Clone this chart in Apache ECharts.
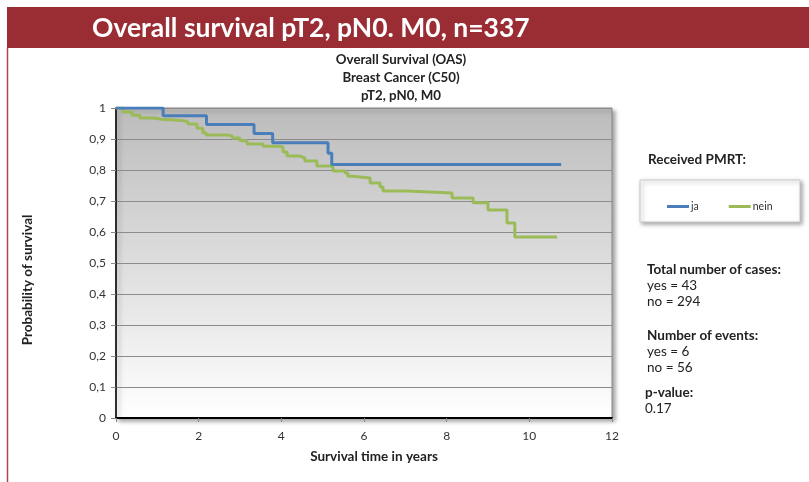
<!DOCTYPE html>
<html>
<head>
<meta charset="utf-8">
<script src="https://cdn.jsdelivr.net/npm/echarts@6/dist/echarts.min.js"></script>
<style>html,body{margin:0;padding:0;background:#fff}#c{width:809px;height:482px}</style>
</head>
<body>
<div id="c"></div>
<script>
// Kaplan-Meier step points: [years, survival probability]
const jaTimes   = [0, 1.14, 2.19, 3.34, 3.79, 5.13, 5.22, 10.77];
const jaValues  = [1, 0.975, 0.947, 0.918, 0.888, 0.854, 0.818, 0.818];
const neinTimes  = [0, 0.17, 0.39, 0.58, 0.90, 1.11, 1.60, 1.74, 1.96, 2.10, 2.18, 2.71, 2.81, 3.00, 3.17, 3.56, 3.92, 4.04, 4.14, 4.45, 4.57, 4.86, 5.18, 5.25, 5.54, 5.61, 5.73, 6.15, 6.39, 6.46, 7.04, 8.13, 8.64, 9.00, 9.46, 9.65, 10.67];
const neinValues = [1, 0.987, 0.977, 0.968, 0.964, 0.96, 0.955, 0.948, 0.935, 0.92, 0.913, 0.91, 0.903, 0.894, 0.884, 0.877, 0.874, 0.858, 0.845, 0.839, 0.829, 0.813, 0.81, 0.797, 0.79, 0.78, 0.774, 0.758, 0.745, 0.732, 0.726, 0.71, 0.694, 0.671, 0.629, 0.584, 0.584];
const seriesNames = ['ja', 'nein'];
const xTicks = [0, 2, 4, 6, 8, 10, 12];
const titleLines = ['Overall Survival (OAS)', 'Breast Cancer (C50)', 'pT2, pN0, M0'];
const bannerText = 'Overall survival pT2, pN0. M0, n=337';
const sideTexts = [
  ['Received PMRT:', true],
  ['Total number of cases:', true], ['yes = 43', false], ['no = 294', false],
  ['Number of events:', true], ['yes = 6', false], ['no = 56', false],
  ['p-value:', true], ['0.17', false]
];

const FF = 'Lato, "Liberation Sans", sans-serif';
const zip = (a, b) => a.map((v, i) => [v, b[i]]);
const chart = echarts.init(document.getElementById('c'), null, {renderer: 'canvas'});

const sidePos = [[648,160],[647,270],[647,286],[647,302],[647,336],[647,352],[647,368],[645,393],[645,409]];
const graphics = [
  {type:'rect', shape:{x:7, y:7, width:802, height:41}, style:{fill:'#9a2c33'}, z:0},
  {type:'line', shape:{x1:7.5, y1:48, x2:7.5, y2:482}, style:{stroke:'#a8474e', lineWidth:1.5}},
  {type:'text', x:92, y:28, style:{text:bannerText, fill:'#fff', fontSize:26.5, fontWeight:'bold', fontFamily:FF, verticalAlign:'middle'}},
  {type:'rect', shape:{x:640, y:180, width:160, height:42}, style:{fill:'#fff', stroke:'#c8c8c8', lineWidth:1, shadowBlur:4, shadowOffsetX:2, shadowOffsetY:2, shadowColor:'rgba(0,0,0,0.35)'}},
  {type:'text', x:28, y:280, rotation:Math.PI/2, style:{text:'Probability of survival', fill:'#222', fontSize:13.5, fontWeight:'bold', fontFamily:FF, align:'center', verticalAlign:'middle'}},
  {type:'text', x:374, y:457, style:{text:'Survival time in years', fill:'#222', fontSize:13.5, fontWeight:'bold', fontFamily:FF, align:'center', verticalAlign:'middle'}}
];
titleLines.forEach((t, i) => graphics.push({type:'text', x:401, y:60 + i*18, style:{text:t, fill:'#222', fontSize:13.3, fontWeight:'bold', fontFamily:FF, align:'center', verticalAlign:'middle'}}));
sideTexts.forEach((s, i) => graphics.push({type:'text', x:sidePos[i][0], y:sidePos[i][1], style:{text:s[0], fill:'#222', fontSize:13.5, fontWeight:s[1]?'bold':'normal', fontFamily:FF, verticalAlign:'middle'}}));

chart.setOption({
  animation: false,
  backgroundColor: '#fff',
  graphic: graphics,
  legend: {
    data: seriesNames, left: 662, top: 196, icon: 'rect', itemWidth: 22, itemHeight: 3, itemGap: 30,
    textStyle: {fontSize: 10.5, fontFamily: FF, color: '#333', padding: [0,0,0,-3]}
  },
  grid: {
    left: 116, right: 197, top: 108, bottom: 64, show: true,
    backgroundColor: {type:'linear', x:0, y:0, x2:0, y2:1, colorStops:[{offset:0, color:'#bcbcbc'},{offset:1, color:'#ffffff'}]},
    borderColor: '#8a8a8a', borderWidth: 1,
    shadowBlur: 4, shadowOffsetX: 3, shadowOffsetY: 3, shadowColor: 'rgba(0,0,0,0.35)'
  },
  xAxis: {
    type: 'value', min: 0, max: 12, interval: 2,
    axisLine: {show: true, lineStyle: {color: '#000', width: 2}},
    axisTick: {show: true, length: 4, lineStyle: {color: '#888'}},
    axisLabel: {fontSize: 12, fontFamily: FF, color: '#333', margin: 12,
      formatter: v => xTicks.includes(v) ? String(v) : ''},
    splitLine: {show: false}
  },
  yAxis: {
    type: 'value', min: 0, max: 1, interval: 0.1,
    axisLine: {show: true, lineStyle: {color: '#000', width: 1.5}},
    axisTick: {show: true, length: 5, lineStyle: {color: '#888'}},
    axisLabel: {fontSize: 12, fontFamily: FF, color: '#333', margin: 10,
      formatter: v => (v === 0 ? '0' : v === 1 ? '1' : v.toFixed(1).replace('.', ','))},
    splitLine: {show: true, lineStyle: {color: '#8c8c8c', width: 1}}
  },
  series: [
    {name: seriesNames[0], type: 'line', step: 'end', data: zip(jaTimes, jaValues), showSymbol: false, symbol: 'none',
      lineStyle: {color: '#4a7ebb', width: 3}, itemStyle: {color: '#4a7ebb'}, z: 3},
    {name: seriesNames[1], type: 'line', step: 'end', data: zip(neinTimes, neinValues), showSymbol: false, symbol: 'none',
      lineStyle: {color: '#9bbb59', width: 3}, itemStyle: {color: '#9bbb59'}, z: 2}
  ]
});
</script>
</body>
</html>
